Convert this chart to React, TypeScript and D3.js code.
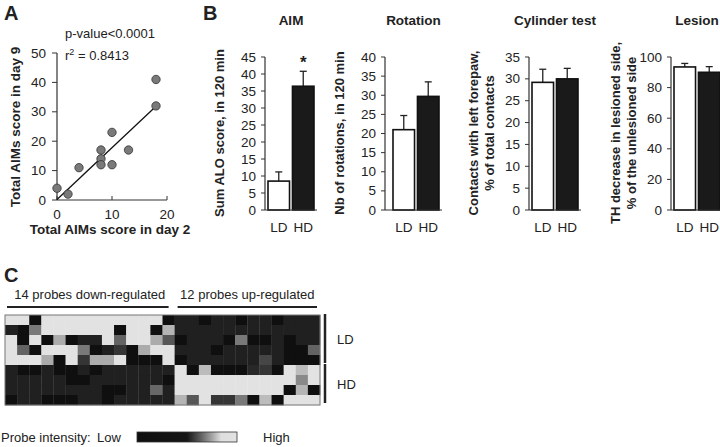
import React from 'react';
import * as d3 from 'd3';

const FONT = '"Liberation Sans", Arial, Helvetica, sans-serif';
const INK = '#222';

// ---- panel A : AIMs day 2 vs day 9
const day2 = [0, 2, 4, 8, 8, 8, 10, 10, 13, 18, 18];
const day9 = [4, 2, 11, 17, 14, 12, 23, 12, 17, 41, 32];
const fitSlope = 1.76;
const fitIntercept = 0.2;
const scatterXTicks = [0, 10, 20];
const scatterYTicks = [0, 10, 20, 30, 40, 50];

// ---- panel B : LD vs HD bars
const groups = ['LD', 'HD'];
const aimMean = [8.5, 36.4];
const aimErr = [2.7, 4.4];
const rotMean = [21, 29.7];
const rotErr = [3.7, 3.8];
const cylMean = [29.2, 30];
const cylErr = [3, 2.4];
const lesionMean = [93.5, 90];
const lesionErr = [2.3, 3.7];

// ---- panel C : heatmap (0 = low, 100 = high)
const headers = ['14 probes down-regulated', '12 probes up-regulated'];
const probeCounts = [14, 12];
const rowGroups = ['LD', 'HD'];
const rowCounts = [5, 4];
const K = 0, D = 8, L = 100;
const intensity = [
  [L, L, K, L, L, L, L, L, L, L, L, L, L, K, D, D, K, D, D, K, D, D, K, D, D, D],
  [D, K, 50, L, L, L, L, L, L, K, L, L, K, 78, D, D, D, D, D, D, D, D, D, D, D, D],
  [L, K, L, K, 74, K, D, D, L, 40, L, L, 74, 34, K, D, D, D, K, 50, K, K, D, K, D, D],
  [L, 40, K, L, L, L, 50, K, D, 18, K, 74, L, L, D, D, D, K, D, D, D, D, D, K, K, 40],
  [L, L, L, 74, K, L, 18, 74, 74, L, K, K, K, L, K, D, D, D, D, D, D, 26, D, K, K, K],
  [D, K, K, D, K, K, D, K, D, D, D, D, D, D, L, K, 82, K, K, K, 12, 18, K, L, 82, L],
  [D, D, D, D, D, K, K, D, D, D, D, D, D, K, L, L, L, L, L, L, L, L, L, L, 58, L],
  [D, D, D, D, D, D, D, D, K, K, D, D, 42, D, L, L, L, L, L, L, L, L, L, K, 78, K],
  [K, D, D, K, K, K, D, D, K, D, D, D, D, D, 78, 34, L, 18, 18, 50, K, 82, K, L, L, L],
];

type BarPanel = {
  title: string;
  ylabel: string[];
  mean: number[];
  err: number[];
  max: number;
  step: number;
  axisX: number;
  barX: number;
  star?: boolean;
};

const barPanels: BarPanel[] = [
  { title: 'AIM', ylabel: ['Sum ALO score, in 120 min'], mean: aimMean, err: aimErr, max: 45, step: 5, axisX: 265, barX: 268, star: true },
  { title: 'Rotation', ylabel: ['Nb of rotations, in 120 min'], mean: rotMean, err: rotErr, max: 40, step: 5, axisX: 385, barX: 393 },
  { title: 'Cylinder test', ylabel: ['Contacts with left forepaw,', '% of total contacts'], mean: cylMean, err: cylErr, max: 35, step: 5, axisX: 529, barX: 532 },
  { title: 'Lesion', ylabel: ['TH decrease in lesioned side,', '% of the unlesioned side'], mean: lesionMean, err: lesionErr, max: 100, step: 20, axisX: 671, barX: 674 },
];

const ScatterPanel = () => {
  const x = d3.scaleLinear().domain([0, 20]).range([57, 167]);
  const y = d3.scaleLinear().domain([0, 50]).range([200, 53]);
  return (
    <g>
      <text x={4} y={20} fontSize={20} fontWeight="bold" fill={INK}>A</text>
      <text x={65} y={38} fontSize={13} fill={INK}>p-value&lt;0.0001</text>
      <text x={65} y={60} fontSize={13} fill={INK}>
        r<tspan fontSize={9} dy={-5}>2</tspan><tspan dy={5}> = 0.8413</tspan>
      </text>
      <line x1={x(0)} x2={x(20)} y1={y(0)} y2={y(0)} stroke="#333" strokeWidth={1.2} />
      <line x1={x(0)} x2={x(0)} y1={y(0)} y2={y(50)} stroke="#333" strokeWidth={1.2} />
      {scatterXTicks.map((t) => (
        <g key={t}>
          <line x1={x(t)} x2={x(t)} y1={y(0)} y2={y(0) - 4} stroke="#333" />
          <text x={x(t)} y={219} fontSize={13.5} textAnchor="middle" fill={INK}>{t}</text>
        </g>
      ))}
      {scatterYTicks.map((t) => (
        <g key={t}>
          <line x1={x(0) - 5} x2={x(0)} y1={y(t)} y2={y(t)} stroke="#333" />
          <text x={x(0) - 11} y={y(t) + 4.5} fontSize={13.5} textAnchor="end" fill={INK}>{t}</text>
        </g>
      ))}
      <line x1={x(0)} y1={y(fitIntercept)} x2={x(18)} y2={y(fitIntercept + fitSlope * 18)} stroke="#111" strokeWidth={1.3} />
      {day2.map((d, i) => (
        <circle key={i} cx={x(d)} cy={y(day9[i])} r={4.2} fill="#7a7a7a" stroke="#333" strokeWidth={0.8} />
      ))}
      <text x={110} y={234} fontSize={13.5} fontWeight="bold" textAnchor="middle" fill={INK}>Total AIMs score in day 2</text>
      <text transform="translate(20,127) rotate(-90)" fontSize={13.5} fontWeight="bold" textAnchor="middle" fill={INK}>Total AIMs score in day 9</text>
    </g>
  );
};

const Bars = ({ p }: { p: BarPanel }) => {
  const y = d3.scaleLinear().domain([0, p.max]).range([210, 57]);
  const xb = d3.scaleBand().domain(groups).range([p.barX, p.barX + 46]).paddingInner(0.12);
  const ticks = d3.range(0, p.max + p.step / 2, p.step);
  const right = p.barX + 49;
  const titleX = (p.axisX + right) / 2;
  const lx = p.ylabel.length === 1 ? p.axisX - 41 : p.axisX - 51;
  return (
    <g>
      <text x={titleX} y={25} fontSize={13.5} fontWeight="bold" textAnchor="middle" fill={INK}>{p.title}</text>
      {p.ylabel.map((s, i) => (
        <text key={i} transform={`translate(${lx + i * 16},133) rotate(-90)`} fontSize={13} fontWeight="bold" textAnchor="middle" fill={INK}>{s}</text>
      ))}
      {groups.map((g, i) => {
        const bx = xb(g)!;
        const bw = xb.bandwidth();
        const cx = bx + bw / 2;
        const top = y(p.mean[i] + p.err[i]);
        return (
          <g key={g}>
            <line x1={cx} x2={cx} y1={y(p.mean[i])} y2={top} stroke="#222" strokeWidth={1.3} />
            <line x1={cx - 3.5} x2={cx + 3.5} y1={top} y2={top} stroke="#222" strokeWidth={1.3} />
            <rect x={bx} y={y(p.mean[i])} width={bw} height={y(0) - y(p.mean[i])} fill={i === 0 ? '#fff' : '#1a1a1a'} stroke="#111" strokeWidth={1.6} />
            <text x={cx} y={232} fontSize={13.5} textAnchor="middle" fill={INK}>{g}</text>
          </g>
        );
      })}
      {p.star && (
        <text x={xb('HD')! + xb.bandwidth() / 2} y={y(p.mean[1] + p.err[1]) - 3} fontSize={17} fontWeight="bold" textAnchor="middle" fill={INK}>*</text>
      )}
      <line x1={p.axisX} x2={p.axisX} y1={y(0)} y2={y(p.max)} stroke="#333" strokeWidth={1.2} />
      <line x1={p.axisX} x2={right} y1={y(0)} y2={y(0)} stroke="#333" strokeWidth={1.2} />
      {ticks.map((t) => (
        <g key={t}>
          <line x1={p.axisX - 4} x2={p.axisX} y1={y(t)} y2={y(t)} stroke="#333" />
          <text x={p.axisX - 9} y={y(t) + 4.5} fontSize={13.5} textAnchor="end" fill={INK}>{t}</text>
        </g>
      ))}
    </g>
  );
};

const Heatmap = () => {
  const nCols = d3.sum(probeCounts);
  const nRows = d3.sum(rowCounts);
  const x = d3.scaleBand<number>().domain(d3.range(nCols)).range([5, 320]);
  const y = d3.scaleBand<number>().domain(d3.range(nRows)).range([315, 405]);
  const color = d3.scaleLinear<string>().domain([0, 100]).range(['#0f0f0f', '#e2e2e2']);
  let c0 = 0;
  const headerSpans = probeCounts.map((n) => {
    const s = [c0, c0 + n - 1];
    c0 += n;
    return s;
  });
  let r0 = 0;
  const rowSpans = rowCounts.map((n) => {
    const s = [r0, r0 + n - 1];
    r0 += n;
    return s;
  });
  return (
    <g>
      <text x={4} y={282} fontSize={20} fontWeight="bold" fill={INK}>C</text>
      {headers.map((h, i) => {
        const a = x(headerSpans[i][0])!;
        const b = x(headerSpans[i][1])! + x.bandwidth();
        return (
          <g key={h}>
            <text x={(a + b) / 2} y={299} fontSize={13} textAnchor="middle" fill={INK}>{h}</text>
            <line x1={i === 0 ? a + 2 : a + 3} x2={i === 0 ? b - 6 : b - 3} y1={307} y2={307} stroke="#222" strokeWidth={2.2} />
          </g>
        );
      })}
      {intensity.map((row, r) =>
        row.map((v, c) => (
          <rect key={`${r}-${c}`} x={x(c)} y={y(r)} width={x.bandwidth() + 0.3} height={y.bandwidth() + 0.3} fill={color(v)} />
        ))
      )}
      <rect x={5} y={315} width={315} height={90} fill="none" stroke="#777" strokeWidth={1} />
      {rowGroups.map((g, i) => {
        const a = y(rowSpans[i][0])!;
        const b = y(rowSpans[i][1])! + y.bandwidth();
        return (
          <g key={g}>
            <line x1={325} x2={325} y1={a - 1} y2={b - 2} stroke="#222" strokeWidth={2.5} />
            <text x={337} y={(a + b) / 2 + 4} fontSize={13} fill={INK}>{g}</text>
          </g>
        );
      })}
      <defs>
        <linearGradient id="probeGrad" x1="0" x2="1" y1="0" y2="0">
          <stop offset="0" stopColor="#0f0f0f" />
          <stop offset="0.5" stopColor="#161616" />
          <stop offset="0.62" stopColor="#555" />
          <stop offset="0.76" stopColor="#aaa" />
          <stop offset="0.84" stopColor="#dedede" />
          <stop offset="1" stopColor="#e2e2e2" />
        </linearGradient>
      </defs>
      <text x={1} y={442} fontSize={13} fill={INK}>Probe intensity:</text>
      <text x={97} y={442} fontSize={13} fill={INK}>Low</text>
      <rect x={137} y={432} width={100} height={10} fill="url(#probeGrad)" stroke="#333" strokeWidth={0.8} />
      <text x={263} y={442} fontSize={13} fill={INK}>High</text>
    </g>
  );
};

export default function App() {
  return (
    <div style={{ position: 'absolute', left: 0, top: 0 }}>
      <svg width={720} height={447} style={{ display: 'block', background: '#fff', fontFamily: FONT }}>
        <ScatterPanel />
        <text x={203} y={20} fontSize={20} fontWeight="bold" fill={INK}>B</text>
        {barPanels.map((p) => (
          <Bars key={p.title} p={p} />
        ))}
        <Heatmap />
      </svg>
    </div>
  );
}
